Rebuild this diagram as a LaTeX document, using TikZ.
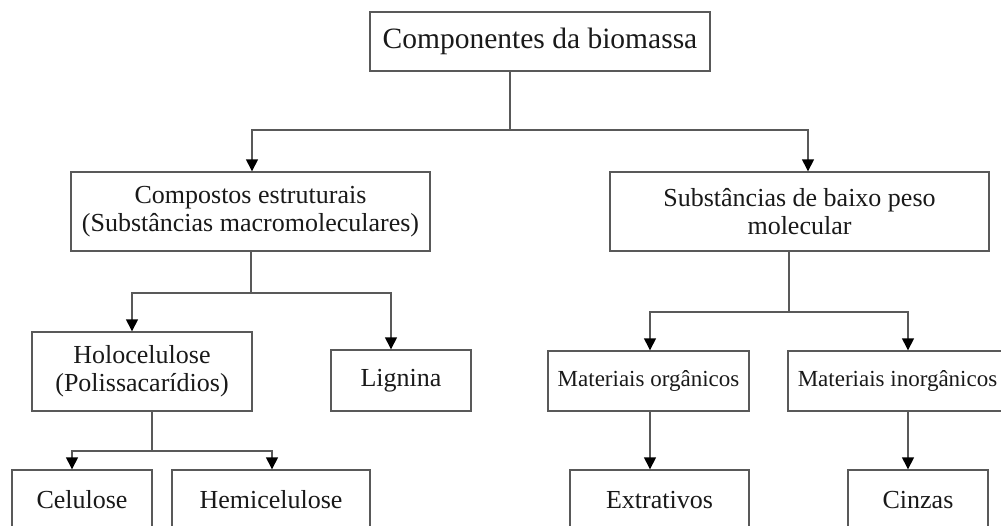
\documentclass[tikz,border=0pt]{standalone}
\usepackage{fontspec}
\setmainfont{Liberation Serif}
\usetikzlibrary{arrows.meta}
\newcommand{\fgrande}{\fontsize{29.5}{34}\selectfont}
\newcommand{\fmedia}{\fontsize{26}{28}\selectfont}
\newcommand{\fpequena}{\fontsize{23}{26}\selectfont}
\tikzset{bloco/.style={draw=black!65,line width=1.4pt,inner sep=0pt,align=center,text=black!90},
  liga/.style={draw=black!65,line width=1.4pt},
  seta/.style={liga,-{Triangle[width=12pt,length=12pt,color=black]}}}
\begin{document}
\begin{tikzpicture}[x=1pt,y=-1pt]
        \clip(0,0)rectangle(1001,525);
        \node[bloco,font=\fgrande,minimum width=340pt,minimum height=59pt](biomassa)at(540,41.5){Componentes da biomassa};
        \node[bloco,font=\fmedia,minimum width=359pt,minimum height=79pt](estrut)at(250.5,211.5){Compostos estruturais\\(Substâncias macromoleculares)};
        \node[bloco,font=\fmedia,minimum width=379pt,minimum height=79pt](baixopeso)at(799.5,211.5){Substâncias de baixo peso\\molecular};
        \node[bloco,font=\fmedia,minimum width=220pt,minimum height=79pt](holo)at(142,371.5){Holocelulose\\(Polissacarídios)};
        \node[bloco,font=\fmedia,minimum width=140pt,minimum height=61pt](lignina)at(401,380.5){Lignina};
        \node[bloco,font=\fpequena,minimum width=201pt,minimum height=60pt](organ)at(648.5,381){Materiais orgânicos};
        \node[bloco,font=\fpequena,minimum width=219pt,minimum height=60pt](inorgan)at(897.5,381){Materiais inorgânicos};
        \node[bloco,font=\fmedia,minimum width=140pt,minimum height=60pt](celulose)at(82,500){Celulose};
        \node[bloco,font=\fmedia,minimum width=198pt,minimum height=60pt](hemi)at(271,500){Hemicelulose};
        \node[bloco,font=\fmedia,minimum width=179pt,minimum height=60pt](extrat)at(659.5,500){Extrativos};
        \node[bloco,font=\fmedia,minimum width=140pt,minimum height=60pt](cinzas)at(918,500){Cinzas};
        % pontos de ramificacao
        \coordinate(r0)at(510,130);\coordinate(r1)at(251,293);
        \coordinate(r2)at(152,451);\coordinate(r3)at(789,312);
        \draw[liga](biomassa.south-|r0)--(r0);
        \draw[seta](r0)-|([xshift=1.5pt]estrut.north);\draw[seta](r0)-|([xshift=8.5pt]baixopeso.north);
        \draw[liga](estrut.south-|r1)--(r1);
        \draw[seta](r1)-|([xshift=-10pt]holo.north);\draw[seta](r1)-|([xshift=-10pt]lignina.north);
        \draw[liga](holo.south-|r2)--(r2);
        \draw[seta](r2)-|([xshift=-10pt]celulose.north);\draw[seta](r2)-|([xshift=1pt]hemi.north);
        \draw[liga](baixopeso.south-|r3)--(r3);
        \draw[seta](r3)-|([xshift=1.5pt]organ.north);\draw[seta](r3)-|([xshift=10.5pt]inorgan.north);
        \draw[seta]([xshift=1.5pt]organ.south)--([xshift=1.5pt]organ.south|-extrat.north);
        \draw[seta]([xshift=10.5pt]inorgan.south)--([xshift=10.5pt]inorgan.south|-cinzas.north);
    \end{tikzpicture}
\end{document}
